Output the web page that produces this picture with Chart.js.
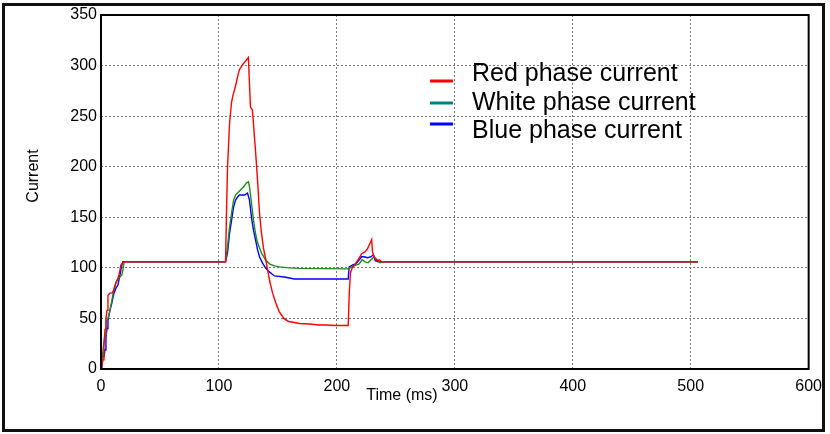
<!DOCTYPE html>
<html>
<head>
<meta charset="utf-8">
<title>Phase currents</title>
<script src="https://cdn.jsdelivr.net/npm/chart.js@4.4.0/dist/chart.umd.min.js"></script>
<style>
  html, body { margin: 0; padding: 0; background: #fff; }
  canvas { display: block; }
</style>
</head>
<body>
<canvas id="chart" width="830" height="434"></canvas>
<script>
// values (time in ms, current in A)
const seriesNames = ['Red phase current', 'White phase current', 'Blue phase current'];

const redTime = [0, 1.7, 2.5, 3.4, 4.2, 5.1, 5.9, 7.6, 9.3, 11, 12.7, 14.4, 15.2, 16.1, 16.9, 18.6, 20.3,
  105, 105.6, 106.5, 107.3, 109, 110.7, 112, 113.2, 114.9, 116, 117.4, 119, 120.8, 123, 125,
  125.6, 126.7, 128.4, 131, 132.7, 134.4, 136, 137.7, 139.4, 141, 143, 145.5, 148, 151,
  155, 159, 164, 168.2, 176.6, 185, 190, 200.3, 209.6, 210.5, 211.5, 213, 215, 218, 221,
  224, 226, 228, 229.5, 230.2, 231.6, 234, 236, 238, 240, 506];
const redCurrent = [0, 9, 24, 39, 50, 58, 73, 75, 75, 78, 85, 90, 93, 98, 103, 105, 106,
  106, 106, 160, 200, 243, 264, 271, 276, 284, 290, 296, 299, 302, 305, 308,
  290, 259, 256, 216, 187, 154, 135, 120, 110, 100, 87, 75, 66, 57,
  50, 47, 46, 45, 44.5, 43.5, 43.5, 43, 43, 75, 95, 100, 103, 108, 114,
  116, 119, 124, 128, 116, 110, 107, 108, 106, 106, 106];

const whiteTime = [0, 1.7, 3.4, 4.2, 5.9, 7.6, 9.3, 11, 12.7, 14.4, 16.1, 17.7, 18.6, 19.4, 20.3,
  105, 105.6, 107.3, 109, 110.7, 112.4, 114.1, 115.8, 118.3, 120.8, 123.4, 125, 125.9, 127.6,
  129.3, 131, 132.7, 136, 139.4, 142.8, 147, 151.3, 159.7, 168.2, 209.6, 211, 214.6, 218.9,
  221.4, 224, 226.5, 229, 231.6, 234.1, 236.6, 240, 506];
const whiteCurrent = [0, 19, 34, 47, 50, 58, 68, 80, 86, 89, 91, 93, 98, 105, 106,
  106, 106, 121, 140, 154, 167, 172, 174, 177, 180, 184, 185, 180, 164,
  147, 134, 125, 115, 108, 104, 102, 101, 100, 99.5, 99, 100, 102, 104,
  108, 106, 105, 108, 111, 108, 105, 106, 106];

const blueTime = [0, 0.8, 2.5, 3.4, 4.2, 5.1, 5.9, 7.6, 9.3, 11, 12.7, 14.4, 15.2, 16.1, 16.9, 17.7, 18.6,
  105, 105.6, 107.3, 109, 110.7, 112.4, 114.1, 115.8, 117.4, 121.7, 124.2, 125.9, 127.6, 129.3,
  131, 132.7, 134.4, 136.9, 139.4, 142.8, 147, 155.5, 163.9, 209.6, 210.4, 213.5, 216, 219,
  221, 223, 226, 229, 231, 232.5, 235, 506];
const blueCurrent = [0, 12, 12, 19, 31, 40, 48, 58, 66, 75, 80, 83, 88, 93, 98, 103, 106,
  106, 106, 115, 134, 147, 160, 167, 170, 172, 172, 174, 167, 150, 137,
  128, 118, 111, 105, 100, 96, 92, 91, 89, 89, 101, 103, 104, 108,
  111, 111, 110, 111, 113, 107, 106, 106];

const xTicks = [0, 100, 200, 300, 400, 500, 600];
const yTicks = [0, 50, 100, 150, 200, 250, 300, 350];

const lineColors = ['#ff0000', '#1c8c1c', '#0000ff'];
const legendColors = ['#ff0000', '#008080', '#0000ff'];

function toPoints(times, values) {
  return times.map((t, i) => ({ x: t, y: values[i] }));
}

const fontFamily = '"Liberation Sans", Arial, sans-serif';

// frame, axis box, axis titles and the in-plot legend
const decorations = {
  id: 'decorations',
  beforeDraw(chart) {
    const ctx = chart.ctx;
    ctx.save();
    ctx.fillStyle = '#fff';
    ctx.fillRect(0, 0, chart.width, chart.height);
    ctx.restore();
  },
  afterDatasetsDraw(chart) {
    const { ctx, chartArea } = chart;
    ctx.save();
    ctx.strokeStyle = '#000';
    ctx.lineWidth = 2;
    ctx.strokeRect(chartArea.left, chartArea.top, chartArea.right - chartArea.left, chartArea.bottom - chartArea.top);
    ctx.restore();
  },
  afterDraw(chart) {
    const ctx = chart.ctx;
    ctx.save();
    ctx.strokeStyle = '#111';
    ctx.lineWidth = 3;
    ctx.strokeRect(3.5, 4.5, 820, 426);

    ctx.fillStyle = '#000';
    ctx.font = '16px ' + fontFamily;
    ctx.textAlign = 'center';
    ctx.textBaseline = 'middle';
    ctx.fillText('Time (ms)', 402, 396);

    ctx.save();
    ctx.translate(34, 176);
    ctx.rotate(-Math.PI / 2);
    ctx.fillText('Current', 0, 0);
    ctx.restore();

    // legend
    const sampleY = [81, 103, 124];
    const textY = [81, 110, 138];
    ctx.font = '25px ' + fontFamily;
    ctx.textAlign = 'left';
    ctx.textBaseline = 'alphabetic';
    chart.data.datasets.forEach((ds, i) => {
      ctx.strokeStyle = legendColors[i];
      ctx.lineWidth = 3;
      ctx.beginPath();
      ctx.moveTo(430, sampleY[i]);
      ctx.lineTo(453, sampleY[i]);
      ctx.stroke();
      ctx.fillStyle = '#000';
      ctx.fillText(ds.label, 472, textY[i]);
    });
    ctx.restore();
  }
};

const series = [
  toPoints(redTime, redCurrent),
  toPoints(whiteTime, whiteCurrent),
  toPoints(blueTime, blueCurrent)
];

new Chart(document.getElementById('chart'), {
  type: 'line',
  data: {
    datasets: series.map((pts, i) => ({
      label: seriesNames[i],
      data: pts,
      borderColor: lineColors[i],
      borderWidth: 1.4,
      pointRadius: 0,
      tension: 0,
      fill: false
    }))
  },
  options: {
    responsive: false,
    animation: false,
    events: [],
    layout: { padding: { left: 0, top: 15, right: 18, bottom: 0 } },
    plugins: {
      legend: { display: false },
      tooltip: { enabled: false }
    },
    scales: {
      x: {
        type: 'linear',
        min: xTicks[0],
        max: xTicks[xTicks.length - 1],
        afterBuildTicks(scale) { scale.ticks = xTicks.map(v => ({ value: v })); },
        afterFit(scale) { scale.height = 65; },
        ticks: {
          color: '#000',
          font: { family: fontFamily, size: 16 },
          padding: 8,
          maxRotation: 0
        },
        grid: { color: '#7a7a7a', lineWidth: 1, drawTicks: false },
        border: { display: false, dash: [2, 2] }
      },
      y: {
        type: 'linear',
        min: yTicks[0],
        max: yTicks[yTicks.length - 1],
        afterBuildTicks(scale) { scale.ticks = yTicks.map(v => ({ value: v })); },
        afterFit(scale) { scale.width = 101; },
        ticks: {
          color: '#000',
          font: { family: fontFamily, size: 16 },
          padding: 4
        },
        grid: { color: '#7a7a7a', lineWidth: 1, drawTicks: false },
        border: { display: false, dash: [2, 2] }
      }
    }
  },
  plugins: [decorations]
});
</script>
</body>
</html>
